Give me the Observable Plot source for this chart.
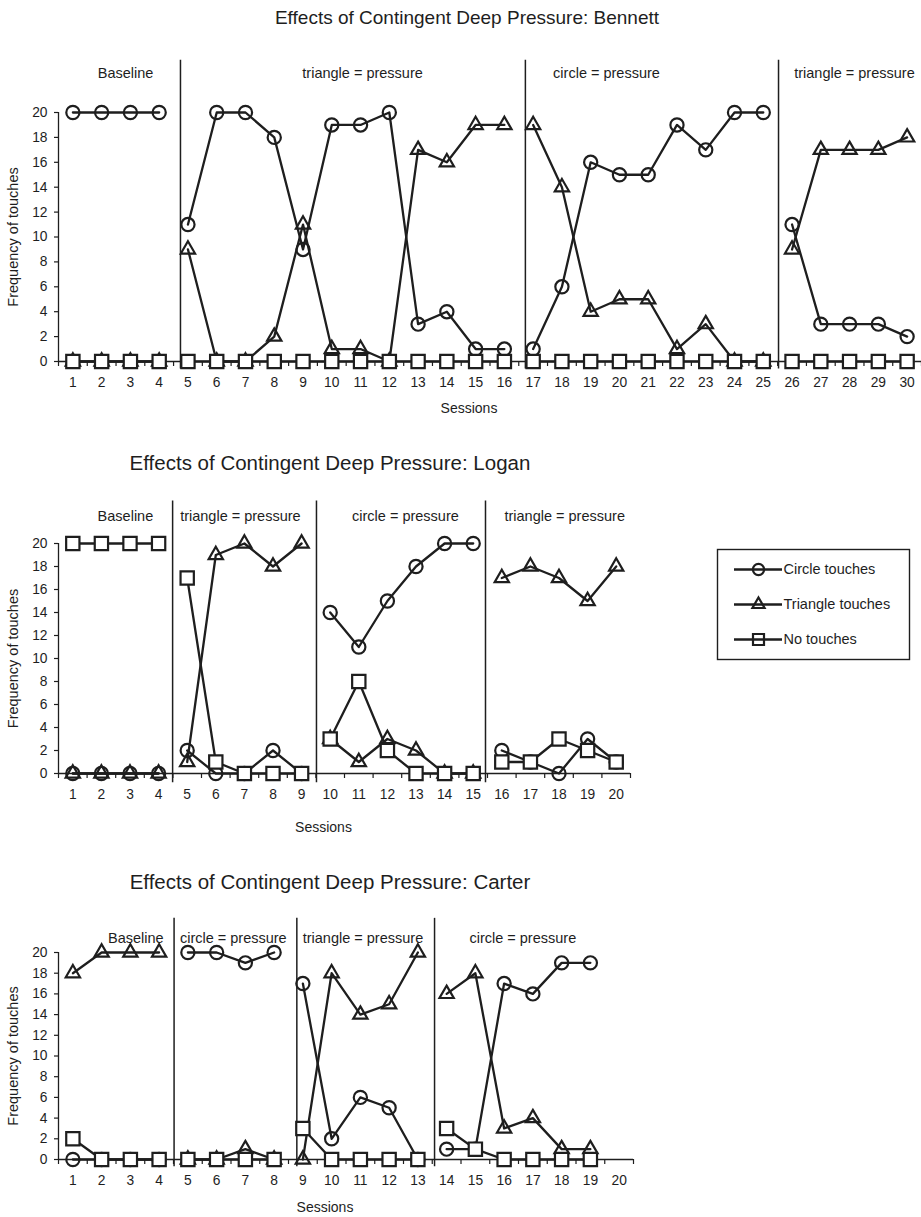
<!DOCTYPE html>
<html>
<head>
<meta charset="utf-8">
<script src="https://cdn.jsdelivr.net/npm/d3@7"></script>
<script src="https://cdn.jsdelivr.net/npm/@observablehq/plot@0.6"></script>
<style>
  body { margin: 0; background: #fff; }
  #root { position: relative; width: 921px; height: 1217px; overflow: hidden;
          font-family: "Liberation Sans", Arial, sans-serif; color: #1e1e1e; background: #fff; }
  .title { position: absolute; line-height: 24px; white-space: nowrap; transform: translateX(-50%); }
  .chart { position: absolute; left: 0; }
  .legend { position: absolute; }
</style>
</head>
<body>
<div id="root"></div>
<script>
const INK = "#1e1e1e";

// ---------- DATA ----------
const seriesNames = ["Circle touches", "Triangle touches", "No touches"];
const yTicks = [0, 2, 4, 6, 8, 10, 12, 14, 16, 18, 20];

// Bennett
const bennettSessions = [1,2,3,4,5,6,7,8,9,10,11,12,13,14,15,16,17,18,19,20,21,22,23,24,25,26,27,28,29,30];
const bennettCircle   = [20,20,20,20, 11,20,20,18,9,19,19,20,3,4,1,1, 1,6,16,15,15,19,17,20,20, 11,3,3,3,2];
const bennettTriangle = [0,0,0,0, 9,0,0,2,11,1,1,0,17,16,19,19, 19,14,4,5,5,1,3,0,0, 9,17,17,17,18];
const bennettNone     = [0,0,0,0, 0,0,0,0,0,0,0,0,0,0,0,0, 0,0,0,0,0,0,0,0,0, 0,0,0,0,0];
const bennettTickLabels = [1,2,3,4,5,6,7,8,9,10,11,12,13,14,15,16,17,18,19,20,21,22,23,24,25,26,27,28,29,30];
const bennettPhaseBreaks = [4.74, 16.73, 25.53];
const bennettPhaseLabels = ["Baseline", "triangle = pressure", "circle = pressure", "triangle = pressure"];
const bennettPhaseLabelAt = [2.83, 11.07, 19.55, 28.17];

// Logan
const loganSessions = [1,2,3,4,5,6,7,8,9,10,11,12,13,14,15,16,17,18,19,20];
const loganCircle   = [0,0,0,0, 2,0,0,2,0, 14,11,15,18,20,20, 2,1,0,3,1];
const loganTriangle = [0,0,0,0, 1,19,20,18,20, 3,1,3,2,0,0, 17,18,17,15,18];
const loganNone     = [20,20,20,20, 17,1,0,0,0, 3,8,2,0,0,0, 1,1,3,2,1];
const loganTickLabels = [1,2,3,4,5,6,7,8,9,10,11,12,13,14,15,16,17,18,19,20];
const loganPhaseBreaks = [4.49, 9.52, 15.43];
const loganPhaseLabels = ["Baseline", "triangle = pressure", "circle = pressure", "triangle = pressure"];
const loganPhaseLabelAt = [2.84, 6.86, 12.63, 18.2];

// Carter
const carterSessions = [1,2,3,4,5,6,7,8,9,10,11,12,13,14,15,16,17,18,19];
const carterCircle   = [0,0,0,0, 20,20,19,20, 17,2,6,5,0, 1,1,17,16,19,19];
const carterTriangle = [18,20,20,20, 0,0,1,0, 0,18,14,15,20, 16,18,3,4,1,1];
const carterNone     = [2,0,0,0, 0,0,0,0, 3,0,0,0,0, 3,1,0,0,0,0];
const carterTickLabels = [1,2,3,4,5,6,7,8,9,10,11,12,13,14,15,16,17,18,19,20];
const carterPhaseBreaks = [4.52, 8.79, 13.58];
const carterPhaseLabels = ["Baseline", "circle = pressure", "triangle = pressure", "circle = pressure"];
const carterPhaseLabelAt = [3.19, 6.58, 11.09, 16.65];

// ---------- LAYOUT ----------
const charts = [
  { title: "Effects of Contingent Deep Pressure: Bennett", titleX: 467, titleY: 18, titleSize: 19,
    top: 40, width: 921, right: 921, marginTop: 72, plotH: 249, marginBottom: 60,
    labelDy: -39, sessionsDy: 47, lineTop: 24.2, lineBottom: -0.6,
    sessions: bennettSessions, circle: bennettCircle, triangle: bennettTriangle, none: bennettNone,
    ticks: bennettTickLabels, breaks: bennettPhaseBreaks, labels: bennettPhaseLabels, labelAt: bennettPhaseLabelAt },
  { title: "Effects of Contingent Deep Pressure: Logan", titleX: 330, titleY: 463, titleSize: 20.5,
    top: 480, width: 640, right: 630, marginTop: 63, plotH: 230, marginBottom: 62,
    labelDy: -27, sessionsDy: 54, lineTop: 23.7, lineBottom: -0.8,
    sessions: loganSessions, circle: loganCircle, triangle: loganTriangle, none: loganNone,
    ticks: loganTickLabels, breaks: loganPhaseBreaks, labels: loganPhaseLabels, labelAt: loganPhaseLabelAt },
  { title: "Effects of Contingent Deep Pressure: Carter", titleX: 330, titleY: 882, titleSize: 20.5,
    top: 900, width: 640, right: 633, marginTop: 52, plotH: 207, marginBottom: 58,
    labelDy: -14, sessionsDy: 48, lineTop: 23.3, lineBottom: -0.7,
    sessions: carterSessions, circle: carterCircle, triangle: carterTriangle, none: carterNone,
    ticks: carterTickLabels, breaks: carterPhaseBreaks, labels: carterPhaseLabels, labelAt: carterPhaseLabelAt }
];

const root = document.getElementById("root");

function drawChart(c) {
  const rows = [];
  const keys = [["circle", c.circle], ["triangle", c.triangle], ["none", c.none]];
  for (const [key, vals] of keys) {
    c.sessions.forEach((s, i) => {
      rows.push({ session: s, value: vals[i], series: key, phase: c.breaks.filter(b => b < s).length });
    });
  }
  const x0 = c.ticks[0] - 0.5;
  const x1 = c.ticks[c.ticks.length - 1] + 0.5;
  const halfTicks = [x0, ...c.ticks.map(t => t + 0.5)];
  const height = c.marginTop + c.plotH + c.marginBottom;

  const svg = Plot.plot({
    width: c.width, height,
    marginLeft: 58, marginRight: c.width - c.right, marginTop: c.marginTop, marginBottom: c.marginBottom,
    style: { fontFamily: "'Liberation Sans', Arial, sans-serif", fontSize: "13.5px", color: INK, background: "transparent", overflow: "visible" },
    x: { domain: [x0, x1], axis: null },
    y: { domain: [0, 20], axis: null },
    marks: [
      Plot.ruleY([0], { stroke: INK, strokeWidth: 1.3 }),
      Plot.ruleX([x0], { y1: 0, y2: 20, stroke: INK, strokeWidth: 1.3 }),
      Plot.axisY({ ticks: yTicks, tickSize: 4, tickPadding: 7, fontSize: 13.8, label: null, stroke: INK, strokeWidth: 1.2 }),
      Plot.axisX({ ticks: c.ticks, tickSize: 0, tickPadding: 16, fontSize: 13.8, label: null }),
      Plot.axisX({ ticks: halfTicks, tickSize: 5, tickFormat: () => "", label: null, stroke: INK, strokeWidth: 1.2 }),
      Plot.ruleX(c.breaks, { y1: c.lineBottom, y2: c.lineTop, stroke: INK, strokeWidth: 1.5 }),
      Plot.text(c.labels, { x: (d, i) => c.labelAt[i], frameAnchor: "top", dy: c.labelDy, lineAnchor: "middle", textAnchor: "middle", fontSize: 14.5, fill: INK }),
      Plot.line(rows, { x: "session", y: "value", z: d => d.series + d.phase, stroke: INK, strokeWidth: 2.3 }),
      Plot.dot(rows.filter(d => d.series === "circle"), { x: "session", y: "value", symbol: "circle", r: 6.6, fill: "none", stroke: INK, strokeWidth: 2.2 }),
      Plot.dot(rows.filter(d => d.series === "triangle"), { x: "session", y: "value", symbol: "triangle", r: 5.3, fill: "none", stroke: INK, strokeWidth: 2.2 }),
      Plot.dot(rows.filter(d => d.series === "none"), { x: "session", y: "value", symbol: "square", r: 7.5, fill: "white", stroke: INK, strokeWidth: 2.2 }),
      Plot.text(["Frequency of touches"], { frameAnchor: "left", dx: -45, rotate: -90, textAnchor: "middle", lineAnchor: "middle", fontSize: 14.5, fill: INK }),
      Plot.text(["Sessions"], { frameAnchor: "bottom", dx: -21, dy: c.sessionsDy, textAnchor: "middle", lineAnchor: "middle", fontSize: 14, fill: INK })
    ]
  });
  svg.classList.add("chart");
  svg.style.top = c.top + "px";
  root.appendChild(svg);

  const t = document.createElement("div");
  t.className = "title";
  t.textContent = c.title;
  t.style.fontSize = c.titleSize + "px";
  t.style.left = c.titleX + "px";
  t.style.top = (c.titleY - 12) + "px";
  root.appendChild(t);
}

charts.forEach(drawChart);

// Legend (beside Logan chart)
const legend = Plot.plot({
  width: 192, height: 110, margin: 0,
  style: { fontFamily: "'Liberation Sans', Arial, sans-serif", fontSize: "14.5px", color: INK, background: "white", overflow: "visible" },
  x: { type: "identity", axis: null },
  y: { type: "band", domain: seriesNames, range: [0, 110], axis: null },
  marks: [
    Plot.frame({ stroke: INK, strokeWidth: 1.4 }),
    Plot.ruleY(seriesNames, { y: d => d, x1: 17, x2: 65, stroke: INK, strokeWidth: 2.3 }),
    Plot.dot([seriesNames[0]], { x: 41, y: d => d, symbol: "circle", r: 5.6, fill: "none", stroke: INK, strokeWidth: 2.2 }),
    Plot.dot([seriesNames[1]], { x: 41, y: d => d, symbol: "triangle", r: 4.5, fill: "none", stroke: INK, strokeWidth: 2.2 }),
    Plot.dot([seriesNames[2]], { x: 41, y: d => d, symbol: "square", r: 6.2, fill: "none", stroke: INK, strokeWidth: 2.2 }),
    Plot.text(seriesNames, { x: 66, y: d => d, textAnchor: "start", lineAnchor: "middle", fontSize: 14.5, fill: INK })
  ]
});
legend.classList.add("legend");
legend.style.left = "717px";
legend.style.top = "549px";
root.appendChild(legend);
</script>
</body>
</html>
